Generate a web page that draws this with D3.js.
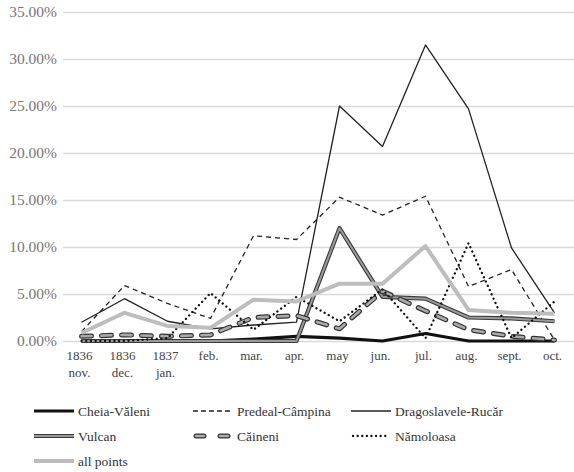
<!DOCTYPE html>
<html>
<head>
<meta charset="utf-8" />
<title>Chart</title>
<script src="https://d3js.org/d3.v7.min.js"></script>
<style>
  body { margin: 0; background: #fff; }
  svg text { font-family: "Liberation Serif", "Times New Roman", "DejaVu Serif", serif !important; }
</style>
</head>
<body>
<svg width="574" height="472"></svg>
<script>
// categories (two-line labels)
const months = [["1836", "nov."], ["1836", "dec."], ["1837", "jan."], ["feb."], ["mar."], ["apr."],
                ["may"], ["jun."], ["jul."], ["aug."], ["sept."], ["oct."]];
const yTicks = [0, 5, 10, 15, 20, 25, 30, 35];

// series values in percent
const cheiaValeni       = [0, 0, 0, 0, 0.2, 0.5, 0.3, 0, 0.8, 0, 0, 0];
const predealCampina    = [1.0, 5.9, 4.0, 2.4, 11.2, 10.8, 15.3, 13.4, 15.4, 5.8, 7.6, 0.1];
const dragoslaveleRucar = [2.0, 4.5, 2.1, 1.3, 1.7, 2.0, 25.0, 20.7, 31.5, 24.7, 9.9, 3.0];
const vulcan            = [0, 0, 0, 0, 0, 0, 12.0, 4.7, 4.5, 2.5, 2.4, 2.1];
const caineni           = [0.5, 0.65, 0.5, 0.65, 2.5, 2.7, 1.3, 5.3, 3.2, 1.2, 0.5, 0.1];
const namoloasa         = [0, 0, 0.3, 5.1, 1.2, 4.7, 2.1, 5.5, 0.3, 10.4, 0.3, 4.2];
const allPoints         = [0.85, 3.0, 1.6, 1.4, 4.4, 4.2, 6.1, 6.1, 10.1, 3.3, 3.0, 2.9];

const seriesNames = ["Cheia-Văleni", "Predeal-Câmpina", "Dragoslavele-Rucăr", "Vulcan", "Căineni", "Nămoloasa", "all points"];
const seriesData = [cheiaValeni, predealCampina, dragoslaveleRucar, vulcan, caineni, namoloasa, allPoints];

// each style is a list of stroke layers drawn on top of each other
const styles = [
    [{stroke: "#111", width: 3.2}],
    [{stroke: "#222", width: 1.3, dash: "5,4", legendDash: "5,3"}],
    [{stroke: "#222", width: 1.3}],
    [{stroke: "#3a3a3a", width: 4.2}, {stroke: "#9a9a9a", width: 2}],
    [{stroke: "#333", width: 5, dash: "10,10", cap: "round", legendDash: "8,16", inset: 3},
     {stroke: "#aaa", width: 2.6, dash: "10,10", cap: "round", legendDash: "8,16", inset: 3}],
    [{stroke: "#111", width: 2.3, dash: "0.1,4.6", cap: "round", legendDash: "0.1,4.5", inset: 2}],
    [{stroke: "#bdbdbd", width: 4}]
];

const FONT = "'Liberation Serif', 'Times New Roman', serif";

const svg = d3.select("svg");
const margin = {top: 12, left: 60, right: -2, bottom: 131};
const width = +svg.attr("width");
const height = +svg.attr("height");
const innerwidth = width - margin.left - margin.right;
const innerheight = height - margin.top - margin.bottom;

const g = svg.append("g").attr("transform", "translate(" + margin.left + "," + margin.top + ")");

const xscale = d3.scaleBand()
    .domain(d3.range(months.length))
    .range([0, innerwidth]);

const yscale = d3.scaleLinear()
    .domain([0, 35])
    .range([innerheight, 0]);

// gridlines + y labels
const yaxisG = g.append("g")
    .call(d3.axisLeft(yscale).tickValues(yTicks).tickSize(-innerwidth + 3)
        .tickFormat(d => d.toFixed(2) + "%"));
yaxisG.attr("font-family", FONT);
yaxisG.select(".domain").remove();
yaxisG.selectAll(".tick line").attr("stroke", "#d9d9d9").attr("stroke-width", 1.3).attr("transform", "translate(3,0)");
yaxisG.selectAll(".tick text")
    .attr("x", -3)
    .attr("fill", "#777")
    .style("font-size", "15.5px")
    .style("font-family", FONT);

// x labels
const xaxisG = g.append("g").attr("transform", "translate(0," + innerheight + ")");
months.forEach((lab, i) => {
    const cx = xscale(i) + xscale.bandwidth() / 2 - 2;
    const t = xaxisG.append("text")
        .attr("x", cx)
        .attr("y", 19)
        .attr("text-anchor", "middle")
        .attr("fill", "#444")
        .style("font-size", "13px")
        .style("font-family", FONT);
    lab.forEach((s, k) => {
        t.append("tspan")
            .attr("x", cx)
            .attr("dy", k === 0 ? 0 : 17)
            .text(s);
    });
});

const line = d3.line()
    .x((d, i) => xscale(i) + xscale.bandwidth() / 2)
    .y(d => yscale(d));

seriesData.forEach((vals, si) => {
    styles[si].forEach(st => {
        g.append("path")
            .datum(vals)
            .attr("d", line)
            .attr("fill", "none")
            .attr("stroke", st.stroke)
            .attr("stroke-width", st.width)
            .attr("stroke-dasharray", st.dash || null)
            .attr("stroke-linecap", st.cap || "butt")
            .attr("stroke-linejoin", "round");
    });
});

// legend
const legendX = [34, 193, 351];
const legendY = [411, 436, 461];
seriesNames.forEach((name, i) => {
    const lx = legendX[i % 3], ly = legendY[Math.floor(i / 3)];
    const lg = svg.append("g").attr("transform", "translate(" + lx + "," + ly + ")");
    styles[i].forEach(st => {
        const inset = st.inset || 0;
        lg.append("line")
            .attr("x1", inset).attr("x2", 40 - inset)
            .attr("y1", 0).attr("y2", 0)
            .attr("stroke", st.stroke)
            .attr("stroke-width", st.width)
            .attr("stroke-dasharray", st.legendDash || null)
            .attr("stroke-linecap", st.cap || "butt");
    });
    lg.append("text")
        .attr("x", 44)
        .attr("y", 5)
        .attr("fill", "#333")
        .style("font-size", "13.5px")
        .style("font-family", FONT)
        .text(name);
});
</script>
</body>
</html>
